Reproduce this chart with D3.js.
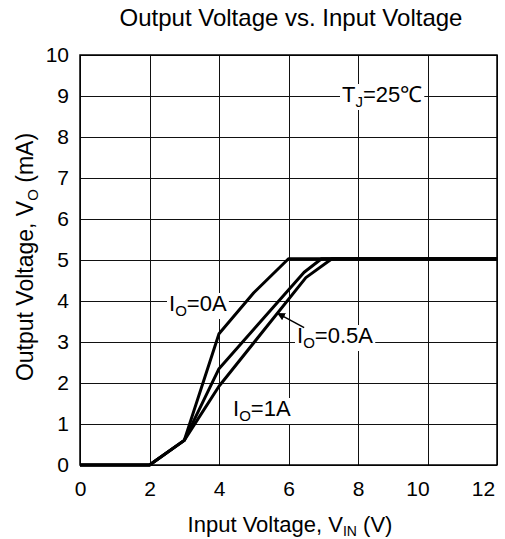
<!DOCTYPE html>
<html>
<head>
<meta charset="utf-8">
<script src="https://cdn.jsdelivr.net/npm/d3@7"></script>
<style>
  body { margin: 0; background: #fff; }
  text { font-family: "Liberation Sans", Arial, sans-serif; fill: #000; }
</style>
</head>
<body>
<div id="chart"></div>
<script>
// input voltage breakpoints and output voltage per load current
var vin0 = [0, 2, 3, 4, 5, 6, 12]
var vout0 = [0, 0, 0.6, 3.2, 4.2, 5.03, 5.03]
var vin05 = [0, 2, 3, 4, 6.45, 6.95, 12]
var vout05 = [0, 0, 0.6, 2.35, 4.7, 5.03, 5.03]
var vin1 = [0, 2, 3, 4, 6.5, 7.25, 12]
var vout1 = [0, 0, 0.6, 1.92, 4.57, 5.03, 5.03]
var xTicks = [0, 2, 4, 6, 8, 10, 12]
var yTicks = [0, 1, 2, 3, 4, 5, 6, 7, 8, 9, 10]

var width = 505, height = 539
var margin = {top: 55, right: 8, bottom: 74, left: 80}
var w = width - margin.left - margin.right
var h = height - margin.top - margin.bottom

var x = d3.scaleLinear().domain([0, 12]).range([0, w])
var y = d3.scaleLinear().domain([0, 10]).range([h, 0])

var svg = d3.select("#chart").append("svg")
    .attr("width", width)
    .attr("height", height)

var g = svg.append("g")
    .attr("transform", "translate(" + margin.left + "," + margin.top + ")")

// grid
g.selectAll(".vgrid").data(xTicks).enter().append("line")
    .attr("x1", d => Math.round(x(d)) + 0.5).attr("x2", d => Math.round(x(d)) + 0.5)
    .attr("y1", 0).attr("y2", h)
    .attr("stroke", "#111").attr("stroke-width", 1)
g.selectAll(".hgrid").data(yTicks).enter().append("line")
    .attr("x1", 0).attr("x2", w)
    .attr("y1", d => Math.round(y(d)) + 0.5).attr("y2", d => Math.round(y(d)) + 0.5)
    .attr("stroke", "#111").attr("stroke-width", 1)

g.append("rect")
    .attr("width", w).attr("height", h)
    .attr("fill", "none").attr("stroke", "#000").attr("stroke-width", 1.5)

// axes (labels only)
var xAxis = d3.axisBottom(x).tickValues(xTicks).tickSize(0).tickPadding(16)
var yAxis = d3.axisLeft(y).tickValues(yTicks).tickSize(0).tickPadding(11)

var xShift = {10: -10, 12: -14}
g.append("g")
    .attr("transform", "translate(0," + h + ")")
    .call(xAxis)
    .call(a => a.select(".domain").remove())
    .selectAll("text")
    .style("font-size", "21px")
    .attr("dx", d => xShift[d] || 0)
g.append("g")
    .call(yAxis)
    .call(a => a.select(".domain").remove())
    .selectAll("text").style("font-size", "21px")

// curves
var line = d3.line()
    .x(d => x(d[0]))
    .y(d => y(d[1]))

function pts(xs, ys) { return xs.map((v, i) => [v, ys[i]]) }

;[pts(vin0, vout0), pts(vin05, vout05), pts(vin1, vout1)].forEach(function (p) {
    g.append("path")
        .attr("d", line(p))
        .attr("fill", "none")
        .attr("stroke", "#000")
        .attr("stroke-width", 3)
        .attr("stroke-linejoin", "round")
})

// labels with white boxes
function label(px, py, main, sub, rest, size) {
    var t = g.append("text")
        .attr("x", px).attr("y", py)
        .style("font-size", size + "px")
    t.append("tspan").text(main)
    t.append("tspan").text(sub).attr("dy", 5).style("font-size", Math.round(size * 0.68) + "px")
    var r = t.append("tspan").text(rest).attr("dy", -5)
    var b = t.node().getBBox()
    g.insert("rect", function () { return t.node() })
        .attr("x", b.x - 2).attr("y", b.y + 2)
        .attr("width", b.width + 4).attr("height", b.height - 2)
        .attr("fill", "#fff")
    return r
}

label(169 - margin.left, 311 - margin.top, "I", "O", "=0A", 22)
label(297 - margin.left, 343 - margin.top, "I", "O", "=0.5A", 22)
label(233 - margin.left, 416 - margin.top, "I", "O", "=1A", 22)
label(342 - margin.left, 102 - margin.top, "T", "J", "=25\u2103", 22)

// arrow to the 0.5A curve
svg.append("defs").append("marker")
    .attr("id", "arr")
    .attr("viewBox", "0 0 10 10")
    .attr("refX", 9).attr("refY", 5)
    .attr("markerWidth", 8).attr("markerHeight", 8)
    .attr("markerUnits", "userSpaceOnUse")
    .attr("orient", "auto")
    .append("path").attr("d", "M0,0 L10,5 L0,10 z").attr("fill", "#000")

g.append("line")
    .attr("x1", x(6.45)).attr("y1", y(3.35))
    .attr("x2", x(5.69)).attr("y2", y(3.7))
    .attr("stroke", "#000").attr("stroke-width", 1.5)
    .attr("marker-end", "url(#arr)")

// titles
svg.append("text")
    .attr("x", 291).attr("y", 26)
    .attr("text-anchor", "middle")
    .style("font-size", "24px")
    .text("Output Voltage vs. Input Voltage")

var xl = svg.append("text")
    .attr("x", 290).attr("y", 532)
    .attr("text-anchor", "middle")
    .style("font-size", "22px")
xl.append("tspan").text("Input Voltage, V")
xl.append("tspan").text("IN").attr("dy", 4).style("font-size", "14px")
xl.append("tspan").text(" (V)").attr("dy", -4)

var yl = svg.append("text")
    .attr("transform", "translate(33,257) rotate(-90)")
    .attr("text-anchor", "middle")
    .style("font-size", "23px")
yl.append("tspan").text("Output Voltage, V")
yl.append("tspan").text("O").attr("dy", 5).style("font-size", "15px")
yl.append("tspan").text(" (mA)").attr("dy", -5)
</script>
</body>
</html>
